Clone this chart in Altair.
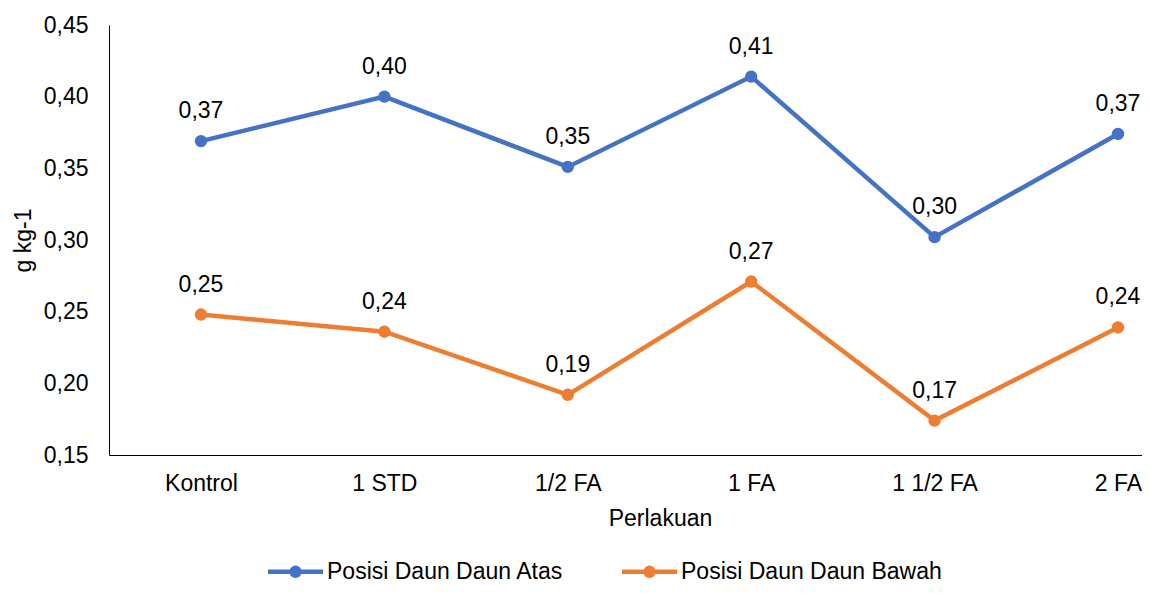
import altair as alt
import pandas as pd

categories = ["Kontrol", "1 STD", "1/2 FA", "1 FA", "1 1/2 FA", "2 FA"]
series_names = ["Posisi Daun Daun Atas", "Posisi Daun Daun Bawah"]
atas = [0.369, 0.400, 0.351, 0.414, 0.302, 0.374]
bawah = [0.248, 0.236, 0.192, 0.271, 0.174, 0.239]
y_ticks = [0.15, 0.20, 0.25, 0.30, 0.35, 0.40, 0.45]
colors = ["#4472C4", "#ED7D31"]

rows = []
for s, vals in zip(series_names, [atas, bawah]):
    for i, (c, v) in enumerate(zip(categories, vals)):
        rows.append({"idx": i, "Perlakuan": c, "series": s, "value": v})
df = pd.DataFrame(rows)

FONT = "Liberation Sans"
label_expr = "[" + ",".join("'" + c + "'" for c in categories) + "][datum.value]"

x_enc = alt.X(
    "idx:Q",
    scale=alt.Scale(domain=[-0.5016, 5.131], nice=False, zero=False),
    axis=alt.Axis(
        title="Perlakuan",
        values=list(range(len(categories))),
        labelExpr=label_expr,
        ticks=False,
        grid=False,
        labelFlush=False,
        labelOverlap=False,
        labelPadding=17,
        labelBaseline="top",
        domainColor="#000000",
        domainWidth=1,
        titleX=551,
        titleY=70,
        titleAlign="center",
        titleBaseline="alphabetic",
    ),
)
y_enc = alt.Y(
    "value:Q",
    scale=alt.Scale(domain=[0.15, 0.45], nice=False, zero=False),
    axis=alt.Axis(
        title="g kg-1",
        values=y_ticks,
        format=".2f",
        ticks=False,
        grid=False,
        labelFlush=False,
        labelPadding=21,
        domainColor="#000000",
        domainWidth=1,
        titleX=-86,
        titleY=215,
        titleAlign="center",
        titleBaseline="middle",
    ),
)

legend = alt.Legend(
    title=None,
    orient="none",
    legendX=173,
    legendY=533,
    direction="horizontal",
    symbolType="M-2.5,0L2.5,0M0.36,0A0.36,0.36,0,1,1,-0.36,0A0.36,0.36,0,1,1,0.36,0",
    symbolSize=484,
    symbolStrokeWidth=4.5,
    labelOffset=18,
    labelLimit=0,
    columnPadding=49,
    padding=0,
)
color_enc = alt.Color(
    "series:N",
    scale=alt.Scale(domain=series_names, range=colors),
    legend=legend,
)

base = alt.Chart(df)
lines = base.mark_line(strokeWidth=4.5).encode(x=x_enc, y=y_enc, color=color_enc, detail="series:N")
points = base.mark_point(filled=True, size=154, opacity=1, shape="circle").encode(
    x=x_enc, y=y_enc, color=color_enc
)
labels = base.mark_text(
    dy=-23, baseline="alphabetic", align="center", fontSize=23, font=FONT, color="#000000"
).encode(x=x_enc, y=y_enc, text=alt.Text("value:Q", format=".2f"))

chart = (
    alt.layer(lines, points, labels)
    .properties(
        width=1033,
        height=430,
        autosize=alt.AutoSizeParams(type="none"),
        padding={"left": 101, "top": 17, "right": 0, "bottom": 130},
    )
    .configure(
        locale={
            "number": {
                "decimal": ",",
                "thousands": ".",
                "grouping": [3],
                "currency": ["", ""],
            }
        }
    )
    .configure_view(stroke=None)
    .configure_axis(
        labelFont=FONT,
        labelFontSize=23,
        labelColor="#000000",
        titleFont=FONT,
        titleFontSize=23,
        titleFontWeight="normal",
        titleColor="#000000",
    )
    .configure_legend(labelFont=FONT, labelFontSize=23, labelColor="#000000")
)

chart.save("out.html", embed_options={"renderer": "svg", "actions": False})
